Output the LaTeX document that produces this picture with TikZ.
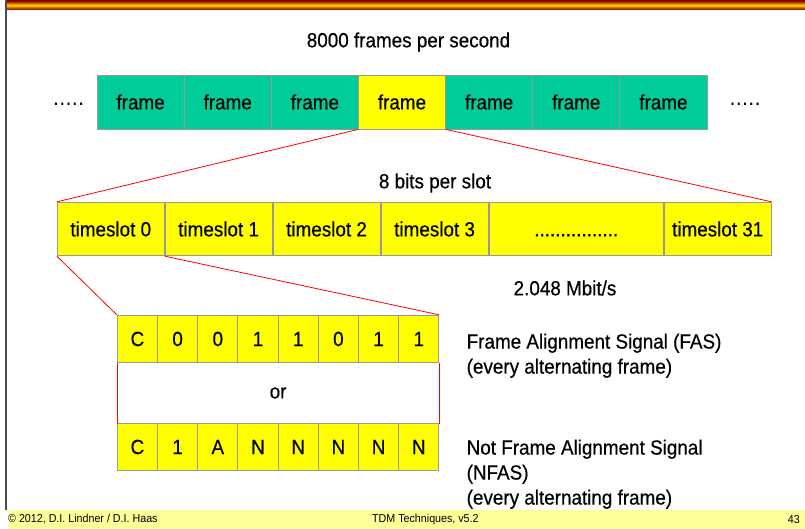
\documentclass[tikz,border=0pt]{standalone}
\usepackage{fontspec}
\setmainfont[FakeStretch=0.92, FakeBold=0.45]{Liberation Sans}
\newfontfamily\footfont[FakeStretch=0.93]{Liberation Sans}
\definecolor{teal1}{HTML}{00CC99}
\definecolor{yel}{HTML}{FFFF00}
\definecolor{cellgray}{HTML}{999999}
\definecolor{foot}{HTML}{FFFF99}
\definecolor{darkred}{HTML}{990000}
\definecolor{barmid}{HTML}{FFDD00}
\tikzset{
  txt/.style={font=\fontsize{20.5}{25}\selectfont, inner sep=0pt},
  cell/.style={draw=cellgray, line width=0.9pt, inner sep=0pt, txt},
  framecell/.style={cell, fill=teal1, minimum width=87.14pt, minimum height=54pt},
  tscell/.style={cell, fill=yel, minimum height=53.4pt},
  bitcell/.style={cell, fill=yel, minimum width=40.2pt, minimum height=47.4pt},
  zoomline/.style={red, line width=0.8pt},
  foottxt/.style={font=\footfont\fontsize{11.5}{13}\selectfont, inner sep=0pt}
}
\begin{document}
\begin{tikzpicture}[x=1pt, y=-1pt]
\useasboundingbox (0,0) rectangle (805,529);
\fill[white] (0,0) rectangle (805,529);
% header bar
\shade[top color=darkred, bottom color=darkred, middle color=barmid] (6,1) rectangle (805,9.5);
% left vertical line
\draw[gray!60!black, line width=1.6pt] (5.8,0) -- (5.8,510);
% footer
\fill[foot] (9,510) rectangle (805,529);
\node[foottxt, anchor=west] (copy) at (8,519.5) {© 2012, D.I. Lindner / D.I. Haas};
\node[foottxt, anchor=west] (tdm) at (372,519.5) {TDM Techniques, v5.2};
\node[foottxt, anchor=east] (pg) at (800,519.5) {43};

% title
\node[txt] (title) at (408.5,42) {8000 frames per second};
% frames
\foreach \i/\c in {0/teal1,1/teal1,2/teal1,3/yel,4/teal1,5/teal1,6/teal1}{
  \node[framecell, fill=\c] (f\i) at ({97+87.14*\i+43.57},102) {frame};
}
\node[txt] (dotsl) at (68.5,102) {\vphantom{frame}·····};
\node[txt] (dotsr) at (745,102) {\vphantom{frame}·····};

% bits per slot
\node[txt] (bps) at (435,183) {8 bits per slot};
% timeslots
\node[tscell, minimum width=106.9pt] (ts0) at ({57.3+53.45},229) {timeslot 0};
\node[tscell, minimum width=107pt, anchor=west] (ts1) at (ts0.east) {timeslot 1};
\node[tscell, minimum width=107.1pt, anchor=west] (ts2) at (ts1.east) {timeslot 2};
\node[tscell, minimum width=107.2pt, anchor=west] (ts3) at (ts2.east) {timeslot 3};
\node[tscell, minimum width=174.2pt, anchor=west] (tsd) at (ts3.east) {\vphantom{timeslot}................};
\node[tscell, minimum width=107pt, anchor=west] (ts31) at (tsd.east) {timeslot 31};

\node[txt] (rate) at (565,288) {2.048 Mbit/s};

% or box
\node[fill=white, inner sep=0pt, minimum width=321.6pt, minimum height=60.6pt, txt] (orbox) at (278.1,393) {or};
% bits
\foreach \t [count=\k] in {C,0,0,1,1,0,1,1}{
  \node[bitcell] (a\k) at ({117.3+40.2*(\k-1)+20.1},339) {\t};
}
\foreach \t [count=\k] in {C,1,A,N,N,N,N,N}{
  \node[bitcell] (b\k) at ({117.3+40.2*(\k-1)+20.1},447) {\t};
}
\draw[zoomline] (orbox.north west) -- (orbox.south west);
\draw[zoomline] (orbox.north east) -- (orbox.south east);

% zoom lines
\draw[zoomline] (f3.south west) -- (ts0.north west);
\draw[zoomline] (f3.south east) -- (ts31.north east);
\draw[zoomline] (ts0.south west) -- (a1.north west);
\draw[zoomline] (ts0.south east) -- (a8.north east);

% labels
\node[txt, anchor=north west, align=left] (fas) at (466.5,333.5) {Frame Alignment Signal (FAS)\\(every alternating frame)};
\node[txt, anchor=north west, align=left] (nfas) at (466.5,439.5) {Not Frame Alignment Signal\\(NFAS)\\(every alternating frame)};
\end{tikzpicture}
\end{document}
